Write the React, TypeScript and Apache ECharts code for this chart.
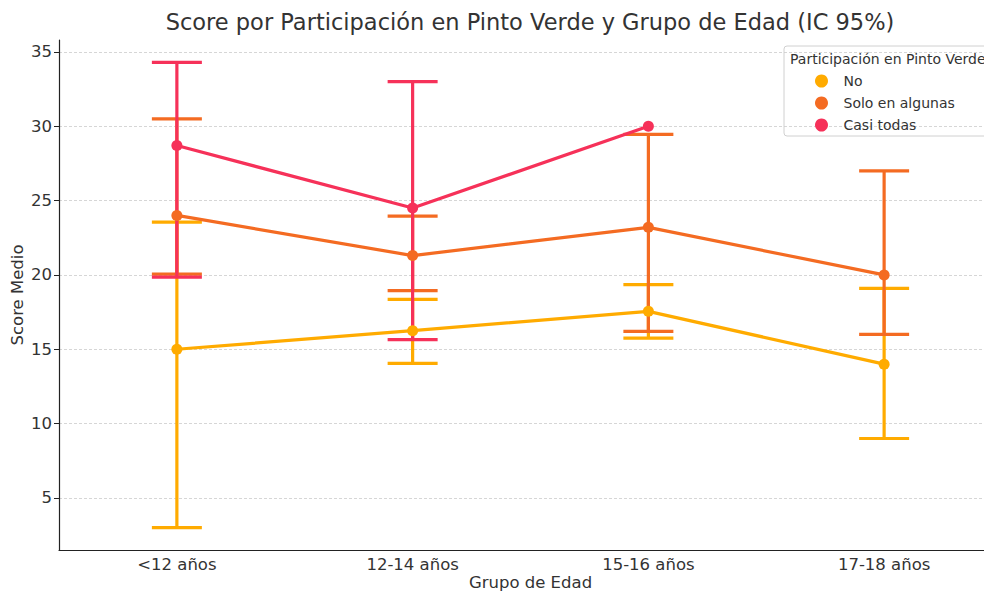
import React, { useEffect, useRef } from "react";
import * as echarts from "echarts";

const categories = ["<12 años", "12-14 años", "15-16 años", "17-18 años"];
const seriesNames = ["No", "Solo en algunas", "Casi todas"];
const colors = ["#FFAB00", "#F46B22", "#F63159"];

const meanNo = [15.0, 16.25, 17.55, 14.0];
const lowNo = [3.0, 14.05, 15.75, 9.0];
const highNo = [23.55, 18.35, 19.35, 19.1];

const meanSolo = [24.0, 21.3, 23.2, 20.0];
const lowSolo = [20.05, 18.95, 16.2, 16.0];
const highSolo = [30.5, 23.95, 29.45, 27.0];

const meanCasi: (number | null)[] = [28.7, 24.5, 30.0, null];
const lowCasi: (number | null)[] = [19.85, 15.65, null, null];
const highCasi: (number | null)[] = [34.3, 33.0, null, null];

const yTicks = [5, 10, 15, 20, 25, 30, 35];

const FONT = "DejaVu Sans";

function errData(low: (number | null)[], high: (number | null)[]) {
  const out: number[][] = [];
  low.forEach((l, i) => {
    const h = high[i];
    if (l !== null && h !== null) out.push([i, l, h]);
  });
  return out;
}

function errSeries(name: string, color: string, low: (number | null)[], high: (number | null)[]) {
  return {
    type: "custom",
    name: name + "_err",
    data: errData(low, high),
    encode: { x: 0, y: [1, 2] },
    silent: true,
    renderItem: (params: any, api: any) => {
      const x = api.value(0);
      const lo = api.coord([x, api.value(1)]);
      const hi = api.coord([x, api.value(2)]);
      const hw = 25;
      const st = { stroke: color, lineWidth: 3.2 };
      return {
        type: "group",
        children: [
          { type: "line", shape: { x1: lo[0], y1: lo[1], x2: hi[0], y2: hi[1] }, style: st },
          { type: "line", shape: { x1: lo[0] - hw, y1: lo[1], x2: lo[0] + hw, y2: lo[1] }, style: st },
          { type: "line", shape: { x1: hi[0] - hw, y1: hi[1], x2: hi[0] + hw, y2: hi[1] }, style: st },
        ],
      };
    },
  };
}

function lineSeries(name: string, color: string, data: (number | null)[]) {
  return {
    type: "line",
    name,
    data,
    symbol: "circle",
    symbolSize: 11,
    connectNulls: false,
    lineStyle: { color, width: 3.2 },
    itemStyle: { color },
    emphasis: { disabled: true },
  };
}

export default function App() {
  const ref = useRef<HTMLDivElement>(null);
  useEffect(() => {
    if (!ref.current) return;
    const chart = echarts.init(ref.current, undefined, { renderer: "svg" });
    chart.setOption({
      animation: false,
      textStyle: { fontFamily: FONT },
      grid: { left: 59, right: -18, top: 40, bottom: 43, containLabel: false, outerBoundsMode: "none" },
      xAxis: {
        type: "category",
        data: categories,
        boundaryGap: true,
        name: "Grupo de Edad",
        nameLocation: "middle",
        nameGap: 24,
        nameMoveOverlap: false,
        nameTextStyle: { fontSize: 16.5, color: "#333", fontFamily: FONT },
        axisLine: { lineStyle: { color: "#222", width: 1.2 } },
        axisTick: { alignWithLabel: true, length: 5, lineStyle: { color: "#222" } },
        axisLabel: { fontSize: 16.5, color: "#333", margin: 6, fontFamily: FONT },
        splitLine: { show: false },
      },
      yAxis: {
        type: "value",
        min: 1.5,
        max: 35.8,
        name: "Score Medio",
        nameLocation: "middle",
        nameGap: 33,
        nameMoveOverlap: false,
        nameRotate: 90,
        nameTextStyle: { fontSize: 16.5, color: "#333", fontFamily: FONT },
        axisLine: { show: true, lineStyle: { color: "#222", width: 1.2 } },
        axisTick: { show: true, length: 5, customValues: yTicks, lineStyle: { color: "#222" } },
        axisLabel: { fontSize: 16.5, color: "#333", margin: 7, customValues: yTicks, fontFamily: FONT },
        splitLine: { show: true, lineStyle: { color: "#cccccc", type: [3, 2], width: 0.8 } },
      },
      legend: {
        data: seriesNames,
        orient: "vertical",
        left: 815,
        top: 74,
        padding: 0,
        itemGap: 8,
        itemWidth: 34,
        itemHeight: 13,
        icon: "circle",
        selectedMode: false,
        textStyle: { fontSize: 14, color: "#333", fontFamily: FONT, padding: [0, 0, 0, 0] },
      },
      graphic: [
        {
          type: "rect",
          z: -1,
          shape: { x: 784, y: 46, width: 240, height: 90, r: 3 },
          style: { fill: "rgba(255,255,255,0.85)", stroke: "#d0d0d0", lineWidth: 1 },
        },
        {
          type: "text",
          x: 790,
          y: 59,
          style: {
            text: "Participación en Pinto Verde",
            font: `14px "${FONT}"`,
            fill: "#333",
            verticalAlign: "middle",
            align: "left",
          },
        },
        {
          type: "text",
          x: 530,
          y: 22,
          style: {
            text: "Score por Participación en Pinto Verde y Grupo de Edad (IC 95%)",
            font: `22.5px "${FONT}"`,
            fill: "#333",
            align: "center",
            verticalAlign: "middle",
          },
        },
      ],
      series: [
        errSeries(seriesNames[0], colors[0], lowNo, highNo),
        lineSeries(seriesNames[0], colors[0], meanNo),
        errSeries(seriesNames[1], colors[1], lowSolo, highSolo),
        lineSeries(seriesNames[1], colors[1], meanSolo),
        errSeries(seriesNames[2], colors[2], lowCasi, highCasi),
        lineSeries(seriesNames[2], colors[2], meanCasi),
      ],
    });
    return () => chart.dispose();
  }, []);
  return (
    <div
      ref={ref}
      style={{ position: "fixed", left: 0, top: 0, width: 984, height: 593, overflow: "hidden", background: "#fff" }}
    />
  );
}
